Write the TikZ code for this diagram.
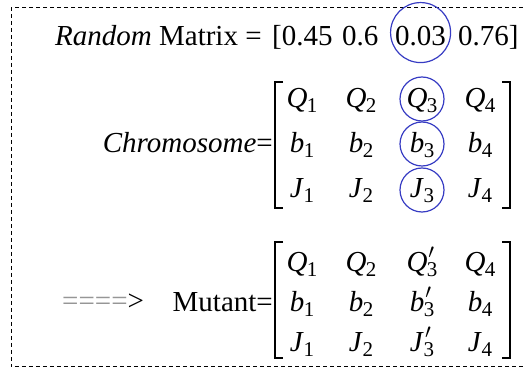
\documentclass[tikz,border=0pt]{standalone}
\usepackage{fontspec}
\setmainfont{Liberation Serif}
\definecolor{ringblue}{RGB}{55,60,195}
\definecolor{arrowgrey}{RGB}{150,150,150}
\usetikzlibrary{positioning}
\newcommand\gene[2]{\textit{#1}\kern-0.5pt\raisebox{-0.17em}{\fontsize{21}{21}\selectfont #2}}
\newcommand\genep[2]{\textit{#1}\rlap{\kern1pt\raisebox{0.17em}{$'$}}\kern-0.5pt\raisebox{-0.17em}{\fontsize{21}{21}\selectfont #2}}

\begin{document}
\begin{tikzpicture}[x=1pt,y=-1pt,
    txt/.style={inner sep=0pt,font=\fontsize{29}{34}\selectfont},
    ent/.style={txt,anchor=base},
    ring/.style={draw=ringblue,line width=1.2pt,circle,minimum size=44pt,inner sep=0pt},
    brk/.style={line width=1.4pt},
    dashframe/.style={line width=1pt,dash pattern=on 4pt off 3pt}]
  \useasboundingbox (0,0) rectangle (523,374);
  \draw[dashframe] (523,8) -- (11,8) -- (11,367) -- (523,367);

  % random vector
  \node[txt,anchor=base west] (rand) at (55,46) {\textit{Random} Matrix =};
  \node[txt,anchor=base west] (r1) at (272,46) {[0.45};
  \node[txt,anchor=base west] (r2) at (342,46) {0.6};
  \node[txt,anchor=base west] (r3) at (395,46) {0.03};
  \node[txt,anchor=base west] (r4) at (458,46) {0.76]};
  \node[ring,minimum size=60pt] (rc) at ([yshift=4pt]r3.center) {};

  % chromosome
  \node[txt,anchor=base east] (chrom) at (273,153) {\textit{Chromosome}=};
  \foreach \c/\x in {1/302,2/361,3/422,4/480}{
    \node[ent] (q\c) at (\x,108) {\gene{Q}{\c}};
    \node[ent] (b\c) at (\x,153) {\gene{b}{\c}};
    \node[ent] (j\c) at (\x,198) {\gene{J}{\c}};
  }
  \draw[brk] (283,82) -- (275,82) -- (275,208) -- (283,208);
  \draw[brk] (502,82) -- (510,82) -- (510,208) -- (502,208);
  \node[ring] (qc) at ([yshift=9pt]q3.base) {};
  \node[ring] (bc) at ([yshift=9pt]b3.base) {};
  \node[ring] (jc) at ([yshift=8pt]j3.base) {};

  % mutant
  \node[txt,anchor=base west] (arr) at (62,311) {\textcolor{arrowgrey}{====}>};
  \node[txt,anchor=base east] (mut) at (273,312) {Mutant=};
  \foreach \c/\x in {1/302,2/361,4/480}{
    \node[ent] (mq\c) at (\x,272) {\gene{Q}{\c}};
    \node[ent] (mb\c) at (\x,312) {\gene{b}{\c}};
    \node[ent] (mj\c) at (\x,352) {\gene{J}{\c}};
  }
  \node[ent] (mq3) at (422,272) {\genep{Q}{3}};
  \node[ent] (mb3) at (422,312) {\genep{b}{3}};
  \node[ent] (mj3) at (422,352) {\genep{J}{3}};
  \draw[brk] (283,242) -- (275,242) -- (275,358) -- (283,358);
  \draw[brk] (502,242) -- (510,242) -- (510,358) -- (502,358);
\end{tikzpicture}
\end{document}
